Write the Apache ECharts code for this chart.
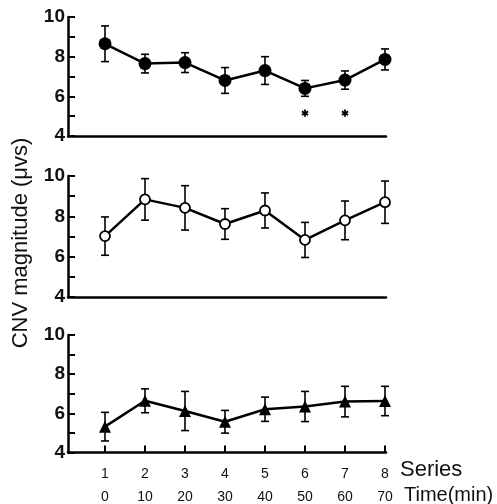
<!DOCTYPE html>
<html>
<head>
<meta charset="utf-8">
<script src="https://cdn.jsdelivr.net/npm/echarts@6/dist/echarts.min.js"></script>
<style>
  html, body { margin: 0; padding: 0; background: #fff; }
  #chart { width: 497px; height: 504px; }
</style>
</head>
<body>
<div id="chart"></div>
<script>
// series numbers and times on the x axis
const seriesNo = [1, 2, 3, 4, 5, 6, 7, 8];
const timeMin = [0, 10, 20, 30, 40, 50, 60, 70];
const yTickLabels = [4, 6, 8, 10];

// panel 1 (filled circles)
const meanA = [8.65, 7.65, 7.7, 6.8, 7.3, 6.4, 6.82, 7.86];
const errA = [0.9, 0.47, 0.5, 0.65, 0.7, 0.4, 0.46, 0.53];
// panel 2 (open circles)
const meanB = [7.02, 8.84, 8.42, 7.62, 8.29, 6.83, 7.8, 8.7];
const errB = [0.95, 1.03, 1.1, 0.76, 0.87, 0.87, 0.96, 1.05];
// panel 3 (triangles)
const meanC = [5.32, 6.64, 6.12, 5.57, 6.21, 6.35, 6.6, 6.63];
const errC = [0.73, 0.61, 1.0, 0.58, 0.62, 0.77, 0.78, 0.75];

// significance marks in panel 1
const sigSeries = [6, 7];
const sigLevel = 5.15;

const font = 'Liberation Sans, Arial, sans-serif';
const chart = echarts.init(document.getElementById('chart'), null, { renderer: 'canvas' });

const grids = [
    { left: 68, top: 17, width: 318, height: 119 },
    { left: 68, top: 176, width: 318, height: 121 },
    { left: 68, top: 335, width: 318, height: 120 }
];

function xAxis(i) {
    const last = i === 2;
    return {
        type: 'value',
        gridIndex: i,
        min: 0.075,
        max: 8.025,
        axisLine: { show: true, onZero: false, lineStyle: { color: '#000', width: 2.5 } },
        splitLine: { show: false },
        axisTick: {
            show: last,
            inside: true,
            length: 7,
            customValues: seriesNo,
            lineStyle: { color: '#000', width: 2 }
        },
        axisLabel: {
            show: last,
            customValues: seriesNo,
            margin: 10,
            formatter: (v) => {
                const k = seriesNo.indexOf(v);
                return '{a|' + v + '}\n{b|' + timeMin[k] + '}';
            },
            rich: {
                a: { fontFamily: font, fontSize: 14, color: '#111', lineHeight: 23 },
                b: { fontFamily: font, fontSize: 14, color: '#111', lineHeight: 23 }
            }
        }
    };
}

function yAxis(i) {
    return {
        type: 'value',
        gridIndex: i,
        min: 4,
        max: 10,
        interval: 1,
        axisLine: { show: true, lineStyle: { color: '#000', width: 2.5 } },
        splitLine: { show: false },
        axisTick: { show: true, inside: true, length: 7, lineStyle: { color: '#000', width: 2 } },
        axisLabel: {
            margin: 3,
            fontFamily: font,
            fontSize: 19,
            fontWeight: 'bold',
            color: '#111',
            formatter: (v) => (yTickLabels.indexOf(v) >= 0 ? String(v) : '')
        }
    };
}

function errorSeries(i, mean, err) {
    return {
        type: 'custom',
        xAxisIndex: i,
        yAxisIndex: i,
        z: 2,
        data: seriesNo.map((x, k) => [x, mean[k] - err[k], mean[k] + err[k]]),
        renderItem: (params, api) => {
            const x = api.value(0);
            const lo = api.coord([x, api.value(1)]);
            const hi = api.coord([x, api.value(2)]);
            const w = 4;
            const style = { stroke: '#000', lineWidth: 1.6 };
            return {
                type: 'group',
                children: [
                    { type: 'line', shape: { x1: hi[0], y1: hi[1], x2: lo[0], y2: lo[1] }, style },
                    { type: 'line', shape: { x1: hi[0] - w, y1: hi[1], x2: hi[0] + w, y2: hi[1] }, style },
                    { type: 'line', shape: { x1: lo[0] - w, y1: lo[1], x2: lo[0] + w, y2: lo[1] }, style }
                ]
            };
        }
    };
}

function lineSeries(i, mean, symbol, size, fill) {
    return {
        type: 'line',
        xAxisIndex: i,
        yAxisIndex: i,
        z: 3,
        data: seriesNo.map((x, k) => [x, mean[k]]),
        symbol: symbol,
        symbolSize: size,
        showAllSymbol: true,
        lineStyle: { color: '#000', width: 2.5 },
        itemStyle: { color: fill, borderColor: '#000', borderWidth: fill === '#fff' ? 1.8 : 0 },
        emphasis: { disabled: true },
        animation: false
    };
}

const sigMarks = {
    type: 'custom',
    xAxisIndex: 0,
    yAxisIndex: 0,
    z: 3,
    data: sigSeries.map((x) => [x, sigLevel]),
    renderItem: (params, api) => {
        const p = api.coord([api.value(0), api.value(1)]);
        const r = 3.6;
        const style = { stroke: '#000', lineWidth: 1.8 };
        const arms = [90, 30, 150].map((deg) => {
            const a = deg * Math.PI / 180;
            const dx = Math.cos(a) * r, dy = Math.sin(a) * r;
            return { type: 'line', shape: { x1: p[0] - dx, y1: p[1] - dy, x2: p[0] + dx, y2: p[1] + dy }, style };
        });
        return { type: 'group', children: arms };
    }
};

chart.setOption({
    animation: false,
    grid: grids,
    xAxis: [xAxis(0), xAxis(1), xAxis(2)],
    yAxis: [yAxis(0), yAxis(1), yAxis(2)],
    series: [
        errorSeries(0, meanA, errA),
        lineSeries(0, meanA, 'circle', 13, '#000'),
        errorSeries(1, meanB, errB),
        lineSeries(1, meanB, 'circle', 10, '#fff'),
        errorSeries(2, meanC, errC),
        lineSeries(2, meanC, 'triangle', 12, '#000'),
        sigMarks
    ],
    graphic: [
        {
            type: 'text',
            x: 21,
            y: 243,
            rotation: Math.PI / 2,
            style: {
                text: 'CNV magnitude (μvs)',
                fontFamily: font,
                fontSize: 22,
                fill: '#111',
                align: 'center',
                verticalAlign: 'middle'
            }
        },
        {
            type: 'text',
            x: 400,
            y: 470,
            style: { text: 'Series', fontFamily: font, fontSize: 22, fill: '#111', verticalAlign: 'middle' }
        },
        {
            type: 'text',
            x: 404,
            y: 495,
            style: { text: 'Time(min)', fontFamily: font, fontSize: 20, fill: '#111', verticalAlign: 'middle' }
        }
    ]
});
</script>
</body>
</html>
